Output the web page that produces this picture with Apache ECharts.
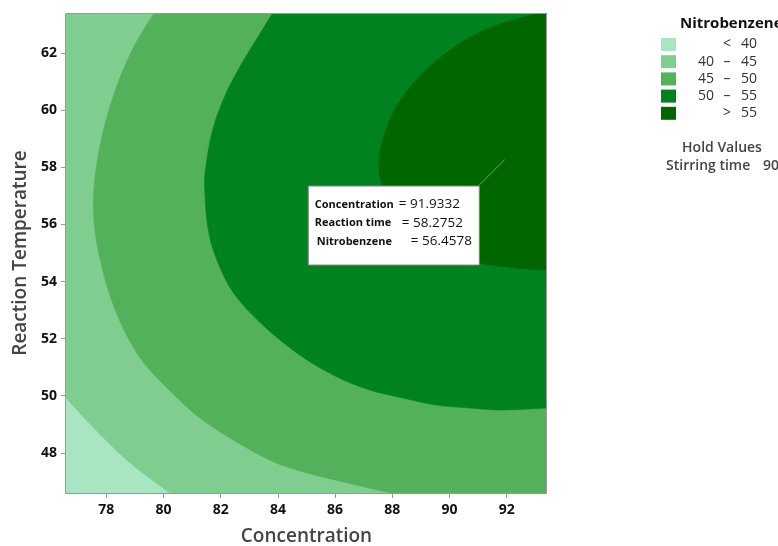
<!DOCTYPE html>
<html>
<head>
<meta charset="utf-8">
<script src="https://cdn.jsdelivr.net/npm/echarts@6/dist/echarts.min.js"></script>
<style>
  html, body { margin: 0; padding: 0; background: #fff; }
  #chart { width: 778px; height: 546px; }
</style>
</head>
<body>
<div id="chart"></div>
<script>
// Axis ranges (design space of the response surface) and tick values
const xRange = [76.59, 93.41];
const yRange = [46.59, 63.41];
const xTicks = [78, 80, 82, 84, 86, 88, 90, 92];
const yTicks = [48, 50, 52, 54, 56, 58, 60, 62];

// Contour boundaries of Nitrobenzene, [Concentration, Reaction Temperature]
const contour40 = [
  [76.59, 49.93], [77.2, 49.25], [77.8, 48.62], [78.4, 48.03],
  [79.0, 47.50], [79.6, 47.05], [80.22, 46.59]
];
const contour45 = [
  [79.67, 63.41], [79.0, 62.3], [78.5, 61.2], [78.15, 60.2], [77.85, 59.1],
  [77.65, 58.0], [77.55, 56.9], [77.6, 55.8], [77.8, 54.7], [78.1, 53.6],
  [78.55, 52.45], [79.2, 51.3], [80.1, 50.3], [81.5, 49.05], [83.6, 47.8],
  [85.0, 47.3], [86.2, 47.0], [87.2, 46.76], [88.0, 46.59]
];
const contour50 = [
  [83.82, 63.41], [82.67, 61.52], [82.08, 60.35], [81.69, 59.20], [81.48, 58.01],
  [81.44, 57.31], [81.55, 55.90], [81.85, 54.80], [82.45, 53.60], [83.5, 52.45],
  [84.8, 51.4], [86.06, 50.66], [87.21, 50.20], [88.37, 49.92], [89.56, 49.67],
  [90.71, 49.57], [91.86, 49.50], [93.41, 49.57]
];
const contour55 = [
  [93.16, 63.41], [91.86, 63.05], [90.71, 62.56], [89.56, 61.75], [88.61, 60.81],
  [88.02, 59.90], [87.63, 58.85], [87.53, 58.15], [87.60, 57.55], [87.91, 56.40],
  [88.44, 55.63], [89.14, 55.10], [90.01, 54.79], [90.99, 54.65], [91.76, 54.54],
  [92.70, 54.44], [93.41, 54.40]
];

// Legend classes
const levelLabels = [['', '<', '40'], ['40', '\u2013', '45'], ['45', '\u2013', '50'], ['50', '\u2013', '55'], ['', '>', '55']];
const levelColors = ['#A7E6C0', '#80CD90', '#53B05B', '#00821F', '#006600'];

// Hold value and the marked point
const holdName = 'Stirring time';
const holdValue = '90';
const marker = { x: 91.9332, y: 58.2752, z: 56.4578 };

const FONT = '"Open Sans", "Noto Sans", sans-serif';

// Each filled band is the area beyond its boundary curve, closed through the plot corners
const [x0, x1] = xRange;
const [y0, y1] = yRange;
const bands = [
  { color: levelColors[0], curve: [[x0, y1], [x0, y0]], corners: [[x1, y0], [x1, y1]], straight: true },
  { color: levelColors[1], curve: contour40, corners: [[x1, y0], [x1, y1], [x0, y1]] },
  { color: levelColors[2], curve: contour45, corners: [[x1, y0], [x1, y1]] },
  { color: levelColors[3], curve: contour50, corners: [[x1, y1]] },
  { color: levelColors[4], curve: contour55, corners: [[x1, y1]] }
];

// SVG path through pixel points as a Catmull-Rom spline
function smoothPath(pts) {
  let d = 'M' + pts[0][0] + ',' + pts[0][1];
  for (let i = 0; i < pts.length - 1; i++) {
    const p0 = pts[Math.max(i - 1, 0)], p1 = pts[i], p2 = pts[i + 1], p3 = pts[Math.min(i + 2, pts.length - 1)];
    const c1 = [p1[0] + (p2[0] - p0[0]) / 6, p1[1] + (p2[1] - p0[1]) / 6];
    const c2 = [p2[0] - (p3[0] - p1[0]) / 6, p2[1] - (p3[1] - p1[1]) / 6];
    d += 'C' + c1[0] + ',' + c1[1] + ' ' + c2[0] + ',' + c2[1] + ' ' + p2[0] + ',' + p2[1];
  }
  return d;
}

const chart = echarts.init(document.getElementById('chart'), null, { renderer: 'canvas' });

function legendGraphics() {
  const g = [];
  g.push({ type: 'text', x: 680, y: 24, style: { text: 'Nitrobenzene', font: 'bold 15px ' + FONT, fill: '#111', textVerticalAlign: 'middle' } });
  levelLabels.forEach((lab, i) => {
    const cy = 44.5 + i * 17.2;
    g.push({ type: 'rect', shape: { x: 661, y: cy - 6.5, width: 15, height: 13 }, style: { fill: levelColors[i] } });
    const st = { font: '14px ' + FONT, fill: '#333', textVerticalAlign: 'middle' };
    if (lab[0]) g.push({ type: 'text', x: 714, y: cy, style: Object.assign({ text: lab[0], textAlign: 'right' }, st) });
    g.push({ type: 'text', x: 727, y: cy, style: Object.assign({ text: lab[1], textAlign: 'center' }, st) });
    g.push({ type: 'text', x: 741, y: cy, style: Object.assign({ text: lab[2], textAlign: 'left' }, st) });
  });
  g.push({ type: 'text', x: 722, y: 148, style: { text: 'Hold Values', font: '600 14px ' + FONT, fill: '#444', textAlign: 'center', textVerticalAlign: 'middle' } });
  g.push({ type: 'text', x: 666, y: 166, style: { text: holdName, font: '600 14px ' + FONT, fill: '#444', textVerticalAlign: 'middle' } });
  g.push({ type: 'text', x: 763, y: 166, style: { text: holdValue, font: '600 14px ' + FONT, fill: '#444', textVerticalAlign: 'middle' } });
  return g;
}

const option = {
  animation: false,
  backgroundColor: '#fff',
  grid: { left: 66, top: 13, width: 481, height: 480, show: false, outerBoundsMode: 'none', containLabel: false },
  xAxis: {
    type: 'value', min: x0, max: x1,
    name: 'Concentration', nameLocation: 'middle', nameGap: 34,
    nameTextStyle: { fontFamily: FONT, fontSize: 19, fontWeight: 600, color: '#444' },
    axisLine: { show: false },
    axisTick: { show: true, length: 5, lineStyle: { color: '#999' }, customValues: xTicks },
    axisLabel: { fontFamily: FONT, fontSize: 14, fontWeight: 'bold', color: '#111', margin: 10, customValues: xTicks },
    splitLine: { show: false }
  },
  yAxis: {
    type: 'value', min: y0, max: y1,
    name: 'Reaction Temperature', nameLocation: 'middle', nameGap: 36,
    nameTextStyle: { fontFamily: FONT, fontSize: 19, fontWeight: 600, color: '#444' },
    axisLine: { show: false },
    axisTick: { show: true, length: 5, lineStyle: { color: '#999' }, customValues: yTicks },
    axisLabel: { fontFamily: FONT, fontSize: 14, fontWeight: 'bold', color: '#111', margin: 9, customValues: yTicks },
    splitLine: { show: false }
  },
  graphic: legendGraphics(),
  series: [
    {
      type: 'custom',
      clip: true,
      silent: true,
      data: bands.map((b, i) => [i]),
      renderItem: function (params, api) {
        const b = bands[api.value(0)];
        const cpx = b.curve.map(p => api.coord(p));
        let d = b.straight ? ('M' + cpx[0][0] + ',' + cpx[0][1] + 'L' + cpx[1][0] + ',' + cpx[1][1]) : smoothPath(cpx);
        b.corners.forEach(p => { const c = api.coord(p); d += 'L' + c[0] + ',' + c[1]; });
        d += 'Z';
        return {
          type: 'path',
          shape: { pathData: d },
          style: { fill: b.color, stroke: b.color, lineWidth: 0.6 }
        };
      }
    },
    {
      // plot frame
      type: 'custom',
      silent: true,
      data: [[0]],
      z: 5,
      renderItem: function (params, api) {
        const a = api.coord([x0, y1]);
        const c = api.coord([x1, y0]);
        return {
          type: 'rect',
          shape: { x: Math.round(a[0]) - 0.5, y: Math.round(a[1]) + 0.5, width: Math.round(c[0] - a[0]), height: Math.round(c[1] - a[1]) },
          style: { fill: null, stroke: '#9a9a9a', lineWidth: 1 }
        };
      }
    },
    {
      // annotated point with its value box
      type: 'custom',
      silent: true,
      z: 6,
      data: [[marker.x, marker.y, marker.z]],
      renderItem: function (params, api) {
        const p = api.coord([api.value(0), api.value(1)]);
        const ex = p[0] - 26, ey = p[1] + 26;
        const bw = 171, bh = 79;
        const bx = ex - bw, by = ey;
        const lab = { font: 'bold 11px ' + FONT, fill: '#111', textVerticalAlign: 'middle' };
        const val = { font: '13.5px ' + FONT, fill: '#111', textVerticalAlign: 'middle' };
        const rows = [
          ['Concentration', 7, api.value(0).toFixed(4), 91],
          ['Reaction time', 7, api.value(1).toFixed(4), 94],
          ['Nitrobenzene', 9, api.value(2).toFixed(4), 103]
        ];
        const children = [
          { type: 'line', shape: { x1: p[0], y1: p[1], x2: ex, y2: ey }, style: { stroke: '#8a8a8a', lineWidth: 1 } },
          { type: 'rect', shape: { x: bx + 0.5, y: by + 0.5, width: bw, height: bh }, style: { fill: '#fff', stroke: '#888', lineWidth: 1 } }
        ];
        rows.forEach((r, i) => {
          const cy = by + 19 + i * 18.5;
          children.push({ type: 'text', x: bx + r[1], y: cy, style: Object.assign({ text: r[0] }, lab) });
          children.push({ type: 'text', x: bx + r[3], y: cy, style: Object.assign({ text: '= ' + r[2] }, val) });
        });
        return { type: 'group', children: children };
      }
    }
  ]
};

chart.setOption(option);
</script>
</body>
</html>
